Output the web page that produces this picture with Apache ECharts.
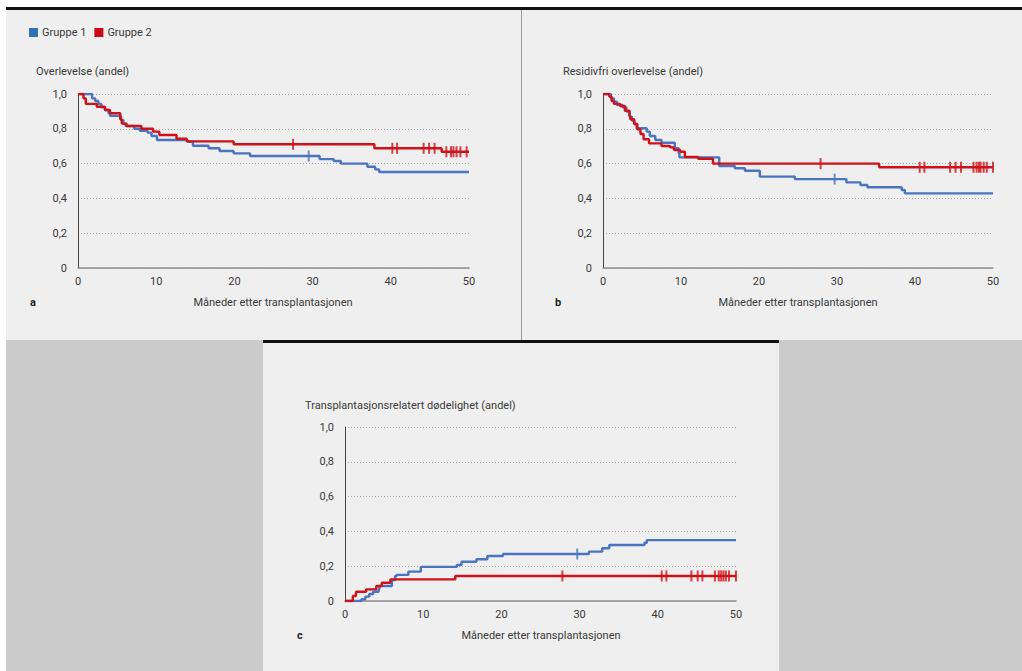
<!DOCTYPE html>
<html>
<head>
<meta charset="utf-8">
<script src="https://cdn.jsdelivr.net/npm/echarts@6/dist/echarts.min.js"></script>
<style>
  html, body { margin: 0; padding: 0; background: #ffffff; }
  #wrap { position: relative; width: 1022px; height: 671px; overflow: hidden; background: #ffffff; }
  .bg { position: absolute; }
  #chart { position: absolute; left: 0; top: 0; width: 1022px; height: 671px; }
</style>
</head>
<body>
<div id="wrap">
  <div class="bg" style="left:6px;top:7px;width:1016px;height:3px;background:#111;"></div>
  <div class="bg" style="left:6px;top:10px;width:515px;height:330px;background:#efefef;"></div>
  <div class="bg" style="left:521px;top:10px;width:1px;height:330px;background:#9a9a9a;"></div>
  <div class="bg" style="left:522px;top:10px;width:500px;height:330px;background:#efefef;"></div>
  <div class="bg" style="left:6px;top:340px;width:1016px;height:331px;background:#cbcbcb;"></div>
  <div class="bg" style="left:263px;top:340px;width:516px;height:331px;background:#efefef;"></div>
  <div class="bg" style="left:263px;top:340px;width:516px;height:3px;background:#111;"></div>
  <div id="chart"></div>
</div>
<script>
// ---------- DATA ----------
const xTicks = [0, 10, 20, 30, 40, 50];
const yTicks = [0, 0.2, 0.4, 0.6, 0.8, 1.0];
const groupNames = ['Gruppe 1', 'Gruppe 2'];
const xTitle = 'Måneder etter transplantasjonen';
const panelTitles = ['Overlevelse (andel)', 'Residivfri overlevelse (andel)', 'Transplantasjonsrelatert dødelighet (andel)'];
const panelLetters = ['a', 'b', 'c'];

// Panel a: overall survival, [month, value after step]
const a_g1 = [[0,1.0],[1.8,0.975],[2.2,0.96],[2.6,0.943],[3.0,0.924],[3.45,0.908],[3.9,0.889],[4.1,0.874],[5.5,0.85],[5.8,0.83],[6.1,0.816],[7.2,0.80],[7.9,0.789],[8.9,0.778],[9.4,0.759],[10.1,0.736],[14.0,0.726],[14.7,0.703],[16.7,0.688],[18.1,0.672],[19.9,0.659],[22.0,0.644],[30.9,0.626],[32.7,0.615],[33.6,0.60],[37.0,0.582],[38.0,0.567],[38.5,0.552],[50,0.552]];
const a_g2 = [[0,1.0],[0.7,0.975],[1.0,0.943],[2.4,0.927],[3.45,0.908],[4.1,0.889],[5.4,0.855],[5.6,0.83],[6.2,0.816],[8.1,0.80],[9.6,0.784],[10.4,0.764],[12.6,0.743],[13.9,0.728],[19.9,0.711],[37.9,0.688],[46.5,0.668],[50,0.668]];
const a_g1_cens = [29.5];
const a_g2_cens = [27.5, 40.2, 40.8, 44.2, 44.9, 45.6, 47.1, 47.7, 48.0, 48.4, 48.9, 49.7];

// Panel b: relapse-free survival
const b_g1 = [[0,1.0],[1.0,0.975],[1.4,0.956],[1.8,0.937],[2.5,0.924],[3.0,0.899],[3.4,0.87],[3.7,0.847],[4.0,0.828],[4.3,0.803],[5.6,0.784],[6.0,0.759],[6.7,0.736],[7.5,0.72],[9.2,0.688],[9.7,0.659],[9.8,0.636],[14.9,0.586],[16.9,0.573],[18.2,0.559],[20.1,0.525],[24.6,0.511],[31.2,0.492],[33.0,0.477],[33.9,0.464],[38.3,0.448],[38.7,0.429],[50,0.429]];
const b_g2 = [[0,1.0],[0.8,0.985],[1.1,0.96],[1.4,0.943],[2.2,0.931],[2.8,0.904],[3.4,0.874],[3.5,0.855],[4.0,0.828],[4.4,0.797],[4.8,0.77],[5.2,0.74],[5.9,0.716],[7.5,0.701],[8.6,0.693],[9.1,0.678],[9.9,0.668],[10.5,0.638],[12.2,0.628],[14.1,0.60],[35.4,0.579],[50,0.579]];
const b_g1_cens = [29.7];
const b_g2_cens = [27.9, 40.6, 41.2, 44.5, 45.2, 45.9, 47.5, 47.9, 48.2, 48.4, 48.8, 49.2, 50.0];

// Panel c: transplant-related mortality
const c_g1 = [[0,0],[2.1,0.01],[2.6,0.025],[3.1,0.04],[3.6,0.053],[4.3,0.067],[4.4,0.086],[6.0,0.12],[6.4,0.144],[6.6,0.15],[8.1,0.169],[9.7,0.196],[14.3,0.207],[14.9,0.226],[16.8,0.24],[18.2,0.259],[20.2,0.27],[31.2,0.284],[32.9,0.303],[33.8,0.322],[38.3,0.335],[38.6,0.35],[50,0.35]];
const c_g2 = [[0,0],[1.0,0.029],[1.4,0.053],[2.7,0.067],[4.0,0.086],[4.7,0.105],[5.8,0.124],[14.1,0.144],[50,0.144]];
const c_g1_cens = [29.7];
const c_g2_cens = [27.8, 40.5, 41.1, 44.3, 45.1, 45.7, 47.3, 47.8, 48.1, 48.4, 48.7, 49.1, 50.0];

// ---------- STYLE ----------
const BLUE = '#4a74c0';
const RED = '#cf1119';
const LEG_BLUE = '#2e74b5';
const LEG_RED = '#cc0a14';
const FONT = 'Roboto, "Liberation Sans", sans-serif';
const TXT = '#3a3a3a';

function stepValueAt(curve, t) {
  let v = curve[0][1];
  for (const p of curve) { if (p[0] <= t) v = p[1]; else break; }
  return v;
}

const grids = [
  { left: 78, top: 94, width: 391, height: 174 },
  { left: 603, top: 94, width: 390, height: 174 },
  { left: 345, top: 427, width: 391, height: 174 }
];
const panels = [
  { g1: a_g1, g2: a_g2, c1: a_g1_cens, c2: a_g2_cens },
  { g1: b_g1, g2: b_g2, c1: b_g1_cens, c2: b_g2_cens },
  { g1: c_g1, g2: c_g2, c1: c_g1_cens, c2: c_g2_cens }
];

const xAxes = [], yAxes = [], series = [];
grids.forEach((g, i) => {
  xAxes.push({
    gridIndex: i, type: 'value', min: xTicks[0], max: xTicks[xTicks.length - 1], interval: 10,
    axisLine: { show: true, lineStyle: { color: '#8e8e8e', width: 1.5 } },
    axisTick: { show: false },
    splitLine: { show: false },
    axisLabel: { color: TXT, fontSize: 11, fontFamily: FONT, margin: 8 }
  });
  yAxes.push({
    gridIndex: i, type: 'value', min: yTicks[0], max: yTicks[yTicks.length - 1], interval: 0.2,
    offset: 6,
    axisLine: { show: true, lineStyle: { color: '#444', width: 1 } },
    axisTick: { show: false },
    splitLine: { show: true, lineStyle: { color: '#a9a9a9', type: [1, 2], width: 1 } },
    axisLabel: {
      color: TXT, fontSize: 11, fontFamily: FONT, margin: 5,
      formatter: v => v === 0 ? '0' : v.toFixed(1).replace('.', ',')
    }
  });
  const p = panels[i];
  [[p.g1, p.c1, BLUE, groupNames[0]], [p.g2, p.c2, RED, groupNames[1]]].forEach(([curve, cens, col, nm]) => {
    series.push({
      name: nm, type: 'line', xAxisIndex: i, yAxisIndex: i, step: 'end',
      data: curve, showSymbol: false, symbol: 'none', animation: false,
      lineStyle: { color: col, width: 2.4 }, itemStyle: { color: col }, z: nm === groupNames[1] ? 4 : 3
    });
    series.push({
      name: nm, type: 'scatter', xAxisIndex: i, yAxisIndex: i,
      data: cens.map(t => [t, stepValueAt(curve, t)]),
      symbol: 'rect', symbolSize: [2, 11], animation: false,
      itemStyle: { color: col }, z: 5, silent: true
    });
  });
});

const textStyle = (extra) => Object.assign({ fill: TXT, font: '11px ' + FONT }, extra);
const graphics = [
  { type: 'text', left: 36, top: 66, style: textStyle({ text: panelTitles[0] }) },
  { type: 'text', left: 563, top: 66, style: textStyle({ text: panelTitles[1] }) },
  { type: 'text', left: 305, top: 400, style: textStyle({ text: panelTitles[2] }) },
  { type: 'text', x: 273, y: 302, style: textStyle({ text: xTitle, textAlign: 'center', textVerticalAlign: 'middle' }) },
  { type: 'text', x: 798, y: 302, style: textStyle({ text: xTitle, textAlign: 'center', textVerticalAlign: 'middle' }) },
  { type: 'text', x: 541, y: 635, style: textStyle({ text: xTitle, textAlign: 'center', textVerticalAlign: 'middle' }) },
  { type: 'text', x: 30, y: 302, style: textStyle({ text: panelLetters[0], textVerticalAlign: 'middle', font: 'bold 11px ' + FONT, fill: '#222' }) },
  { type: 'text', x: 555, y: 302, style: textStyle({ text: panelLetters[1], textVerticalAlign: 'middle', font: 'bold 11px ' + FONT, fill: '#222' }) },
  { type: 'text', x: 297, y: 635, style: textStyle({ text: panelLetters[2], textVerticalAlign: 'middle', font: 'bold 11px ' + FONT, fill: '#222' }) }
];

const chart = echarts.init(document.getElementById('chart'), null, { renderer: 'svg', width: 1022, height: 671 });
chart.setOption({
  backgroundColor: 'transparent',
  animation: false,
  legend: {
    left: 24, top: 22, icon: 'rect', itemWidth: 9, itemHeight: 9, itemGap: 8,
    textStyle: { color: TXT, fontSize: 11, fontFamily: FONT, padding: [0, 0, 0, -1] },
    data: [
      { name: groupNames[0], itemStyle: { color: LEG_BLUE } },
      { name: groupNames[1], itemStyle: { color: LEG_RED } }
    ]
  },
  grid: grids.map(g => Object.assign({ containLabel: false }, g)),
  xAxis: xAxes,
  yAxis: yAxes,
  series: series,
  graphic: graphics
});
</script>
</body>
</html>
